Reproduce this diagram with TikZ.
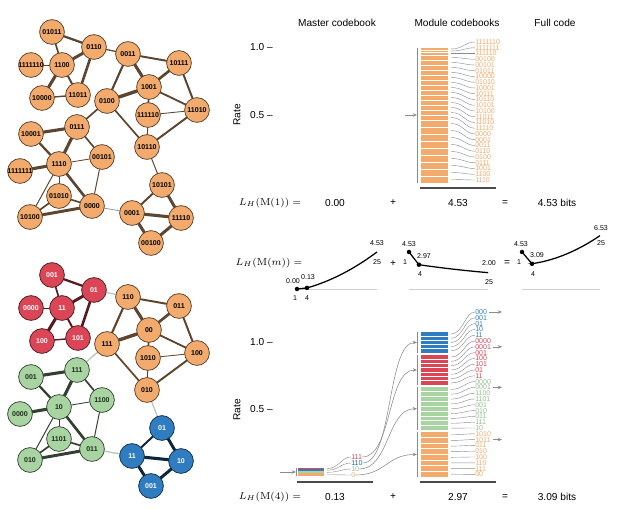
\documentclass[tikz,border=0pt]{standalone}
\usepackage{fontspec}
\setsansfont{Liberation Sans}
\usetikzlibrary{arrows.meta, positioning, calc, backgrounds}
\definecolor{corange}{HTML}{F2AB6D}
\definecolor{cred}{HTML}{DA4655}
\definecolor{cgreen}{HTML}{A8D4A2}
\definecolor{cblue}{HTML}{2F7DC0}
\definecolor{cbrown}{HTML}{5C4631}
\definecolor{cgrey}{HTML}{8C8C8C}
\definecolor{clight}{HTML}{CFCFCF}
\definecolor{cdark}{HTML}{4A4A4A}
\definecolor{cbridge}{HTML}{BCCBB8}
\tikzset{
  every picture/.style={font=\sffamily\fontsize{7.2}{8}\selectfont},
  vert/.style={circle, inner sep=0pt, minimum size=0.62cm, line width=0.5pt, font=\sffamily\bfseries\fontsize{5}{5}\selectfont},
  omod/.style={vert, fill=corange, draw=corange!35!black},
  rmod/.style={vert, fill=cred, draw=cred!35!black, text=white},
  gmod/.style={vert, fill=cgreen, draw=cgreen!30!black, text=cgreen!20!black},
  bmod/.style={vert, fill=cblue, draw=cblue!35!black, text=white},
  link/.style={draw=#1, line cap=round},
  code/.style={anchor=west, inner sep=0pt, text=#1, font=\sffamily\fontsize{5}{5}\selectfont},
  fan/.style={draw=cgrey, line width=0.3pt},
  entry/.style={draw=cgrey, line width=0.4pt, -{Stealth[length=3pt, width=2.4pt]}},
  under/.style={draw=cdark, line width=1.1pt},
  trend/.style={draw=black, line width=0.9pt},
  plotlbl/.style={font=\sffamily\fontsize{5}{6}\selectfont, inner sep=0.5pt},
  ratetick/.style={anchor=east, inner sep=0pt},
}
\newcommand\rededges{1/2/1.6, 1/4/1.2, 2/4/2.1, 2/6/1.9, 3/4/0.7, 4/5/2.2, 4/6/1.4, 5/6/1.0}
\newcommand\orangeedges{7/8/1.4, 7/9/2.2, 7/10/1.5, 9/10/2.4, 8/9/1.9, 9/11/1.3, 9/12/1.3, 8/11/1.4, 11/12/0.6, 12/15/0.7, 11/15/1.4, 10/15/1.2}
\newcommand\greenedges{13/14/2.2, 13/17/2.2, 13/16/1.2, 14/17/1.6, 17/18/2.2, 16/17/0.6, 17/19/0.7, 17/21/1.9, 17/22/0.7, 16/21/0.7, 19/21/1.2, 19/22/1.2, 21/22/2.1}
\newcommand\blueedges{20/23/1.4, 20/24/2.1, 23/24/2.2, 23/25/2.1, 24/25/2.1}
\begin{document}
\begin{tikzpicture}[x=0.025cm, y=-0.025cm]
  \useasboundingbox (0,0) rectangle (640,510);
  % the network, once as one module and once as four
  \foreach \i/\x/\y/\lbl in {1/52/32/01011, 2/94/47/0110, 3/31/65/1111110, 4/62/65/1100, 5/42/98/10000, 6/78/95/11011, 7/128/54/0011, 8/179/63/10111, 9/149/87/1001, 10/107/101/0100, 11/197/110/11010, 12/148/115/111110, 13/77/127/0111, 14/31/134/10001, 15/147/147/10110, 16/102/157/00101, 17/59/164/1110, 18/20/171/1111111, 19/59/196/01010, 20/162/185/10101, 21/92/206/0000, 22/30/217/10100, 23/132/213/0001, 24/181/218/11110, 25/151/243/00100}
    \node[omod] (t\i) at (\x,\y) {\makebox[0pt]{\lbl}};
  \foreach \i/\s/\lbl in {1/rmod/001, 2/rmod/01, 3/rmod/0000, 4/rmod/11, 5/rmod/100, 6/rmod/101, 7/omod/110, 8/omod/011, 9/omod/00, 10/omod/111, 11/omod/100, 12/omod/1010, 13/gmod/111, 14/gmod/001, 15/omod/010, 16/gmod/1100, 17/gmod/10, 18/gmod/0000, 19/gmod/1101, 20/bmod/01, 21/gmod/011, 22/gmod/010, 23/bmod/11, 24/bmod/10, 25/bmod/001}
    \node[\s] (b\i) at ($(t\i)+(0,243)$) {\lbl};
  \begin{scope}[on background layer]
    \foreach \a/\b/\w in \rededges {\draw[link=cbrown, line width=\w pt] (t\a) -- (t\b); \draw[link=cred!40!black, line width=\w pt] (b\a) -- (b\b);}
    \foreach \a/\b/\w in \orangeedges {\draw[link=cbrown, line width=\w pt] (t\a) -- (t\b); \draw[link=corange!40!black, line width=\w pt] (b\a) -- (b\b);}
    \foreach \a/\b/\w in \greenedges {\draw[link=cbrown, line width=\w pt] (t\a) -- (t\b); \draw[link=cgreen!30!black, line width=\w pt] (b\a) -- (b\b);}
    \foreach \a/\b/\w in \blueedges {\draw[link=cbrown, line width=\w pt] (t\a) -- (t\b); \draw[link=cblue!30!black, line width=\w pt] (b\a) -- (b\b);}
    \foreach \a/\b/\w/\c in {2/7/0.9/cbrown, 10/13/1.2/cbrown, 15/20/0.7/cbrown, 21/23/0.5/cgrey} {\draw[link=\c, line width=\w pt] (t\a) -- (t\b); \draw[link=cbridge, line width=1pt] (b\a) -- (b\b);}
  \end{scope}
  % headers and rate axes
  \node (hmaster) at (337,23) {Master codebook};
  \node (hmodule) at (457,23) {Module codebooks};
  \node (hfull) at (555,23) {Full code};
  \node[ratetick] (ra1) at (273,47) {1.0 –};
  \node[ratetick] (ra2) at (273,115) {0.5 –};
  \node[rotate=90] (rate1) at (237,115) {Rate};
  \node[ratetick] (rb1) at (273,342) {1.0 –};
  \node[ratetick] (rb2) at (273,409) {0.5 –};
  \node[rotate=90] (rate2) at (237,410) {Rate};
  % one module
  \fill[corange] (421,48) rectangle (448,183);
  \foreach \yy in {50,52,55} \draw[white, line width=0.5pt] (421,\yy) -- (448,\yy);
  \foreach \yy in {60,65,...,120} \draw[white, line width=0.6pt] (421,\yy) -- (448,\yy);
  \foreach \yy in {127,134,...,176} \draw[white, line width=0.6pt] (421,\yy) -- (448,\yy);
  \foreach \c/\ym [count=\i from 0] in {1111110/49, 1111111/51, 111110/53.5, 00100/57.5, 00101/62.5, 01011/67.5, 10000/72.5, 01010/77.5, 10001/82.5, 10111/87.5, 10110/92.5, 10101/97.5, 10100/102.5, 11011/107.5, 11010/112.5, 11110/117.5, 0000/123.5, 0001/130.5, 0011/137.5, 0110/144.5, 0100/151.5, 0111/158.5, 1001/165.5, 1100/172.5, 1110/179.5} {
    \coordinate (ts\i) at (451,\ym);
    \node[code=corange] (tc\i) at (475,{42+5.75*\i}) {\c};
    \draw[fan] (ts\i) .. controls +(12,0) and +(-10,0) .. (tc\i.west);
  }
  \draw[fan] (417,48) -- (417,183);
  \coordinate (tin0) at (405,115);
  \coordinate (tin1) at (417,115);
  \draw[entry] (tin0) -- (tin1);
  \draw[under] (420,188) -- (496,188);
  \node (eq1) at (270,203) {$L_H(\mathrm{M}(1)) =$};
  \node (eq1a) at (335,203) {0.00};
  \node (eq1p) at (393,203) {+};
  \node (eq1b) at (458,203) {4.53};
  \node (eq1e) at (505,203) {=};
  \node (eq1c) at (557,203) {4.53 bits};
  % description length against number of modules
  \node (eqm) at (269,263) {$L_H(\mathrm{M}(m)) =$};
  \node (eqmp) at (393,264) {+};
  \node (eqme) at (507,263) {=};
  \foreach \xa/\xb in {297/377, 409/488, 522/600} \draw[clight, line width=0.6pt] (\xa,289) -- (\xb,289);
  \coordinate (p1a) at (297,289);
  \coordinate (p1b) at (307,287.9);
  \coordinate (p2a) at (409,252);
  \coordinate (p2b) at (418.9,264.7);
  \coordinate (p3a) at (522,252);
  \coordinate (p3b) at (532,263.8);
  \draw[trend] (p1a) -- (p1b) -- plot[domain=4:25, samples=22] ({297+3.333*(\x-1)}, {289-8.17*(0.13+4.4*(0.55*(\x-4)/21+0.45*((\x-4)/21)*((\x-4)/21)))});
  \draw[trend] (p2a) -- (p2b) -- plot[domain=4:25, samples=22] ({409+3.3*(\x-1)}, {289-8.17*(2.97-0.97*(1.25*(\x-4)/21-0.25*((\x-4)/21)*((\x-4)/21)))});
  \draw[trend] (p3a) -- (p3b) -- plot[domain=4:25, samples=22] ({522+3.25*(\x-1)}, {289-8.17*(3.09+1.21*(\x-4)/21+2.23*((\x-4)/21)*((\x-4)/21))});
  \foreach \p in {p1a,p1b,p2a,p2b,p3a,p3b} \fill (\p) circle (1.6pt);
  \foreach \x/\y/\t [count=\k] in {293/281/0.00, 308/277/0.13, 377/243/4.53, 377/262/25, 295/298/1, 307/298/4, 409/244/4.53, 405/262/1, 424/256/2.97, 420/274/4, 489/263/2.00, 489/282/25, 521/244/4.53, 519/262/1, 537/255/3.09, 533/274/4, 601/228/6.53, 601/243/25}
    \node[plotlbl] (v\k) at (\x,\y) {\t};
  % four modules: index codebook
  \foreach \a/\b/\col in {468/469.2/cred, 469.2/471.2/cblue, 471.2/473.5/cgreen, 473.5/476/corange}
    \fill[\col] (298,\a) rectangle (324,\b);
  \draw[fan] (296,468) -- (296,476);
  \coordinate (min0) at (280,472);
  \coordinate (min1) at (296,472);
  \draw[entry] (min0) -- (min1);
  \foreach \c/\col/\ym [count=\i from 0] in {111/cred/468.6, 110/cblue!80!black/470.2, 10/cgreen!90!black/472.35, 0/corange/474.75} {
    \coordinate (ms\i) at (327,\ym);
    \node[code=\col] (mc\i) at (351,{457+6*\i}) {\c};
    \draw[fan] (ms\i) .. controls +(12,0) and +(-10,0) .. (mc\i.west);
  }
  \draw[under] (297,482) -- (373,482);
  % four modules: module codebooks
  \foreach \top/\h/\n/\col in {332/21/5/cblue, 355/30/7/cred, 387/43.5/9/cgreen, 432/45/8/corange} {
    \fill[\col] (421,\top) rectangle (448,{\top+\h});
    \pgfmathtruncatemacro\nn{\n-1}
    \foreach \k in {1,...,\nn} \draw[white, line width=0.6pt] (421,{\top+\h*\k/\n}) -- (448,{\top+\h*\k/\n});
    \draw[fan] (417,\top) -- (417,{\top+\h});
    \coordinate (e\col) at (417,{\top+\h/2});
  }
  \foreach \k/\col in {0/cred, 1/cblue, 2/cgreen, 3/corange}
    \draw[entry] (mc\k.east) .. controls +(30,0) and +(-30,0) .. (e\col);
  \foreach \c/\col/\ym [count=\i from 0] in {000/cblue/334.1, 001/cblue/338.3, 01/cblue/342.5, 10/cblue/346.7, 11/cblue/350.9, 0000/cred/357.1, 0001/cred/361.4, 001/cred/365.7, 100/cred/370.0, 101/cred/374.3, 01/cred/378.6, 11/cred/382.9, 0000/cgreen!90!black/389.4, 0001/cgreen!90!black/394.2, 1100/cgreen!90!black/399.1, 1101/cgreen!90!black/403.9, 001/cgreen!90!black/408.8, 010/cgreen!90!black/413.6, 011/cgreen!90!black/418.4, 111/cgreen!90!black/423.3, 10/cgreen!90!black/428.1, 1010/corange/434.8, 1011/corange/440.4, 011/corange/446.1, 010/corange/451.7, 100/corange/457.3, 110/corange/462.9, 111/corange/468.6, 00/corange/474.2} {
    \coordinate (bs\i) at (451,\ym);
    \node[code=\col] (bc\i) at (475,{312+5.8*\i}) {\c};
    \draw[fan] (bs\i) .. controls +(12,0) and +(-10,0) .. (bc\i.west);
  }
  \foreach \i in {0,6,13,22} {
    \coordinate (bx\i) at (502,{312+5.8*\i});
    \draw[entry] ([xshift=1.5pt]bc\i.east) -- (bx\i);
  }
  \draw[under] (420,482) -- (496,482);
  \node (eq4) at (270,497) {$L_H(\mathrm{M}(4)) =$};
  \node (eq4a) at (335,497) {0.13};
  \node (eq4p) at (393,497) {+};
  \node (eq4b) at (458,497) {2.97};
  \node (eq4e) at (505,497) {=};
  \node (eq4c) at (557,497) {3.09 bits};
\end{tikzpicture}
\end{document}
